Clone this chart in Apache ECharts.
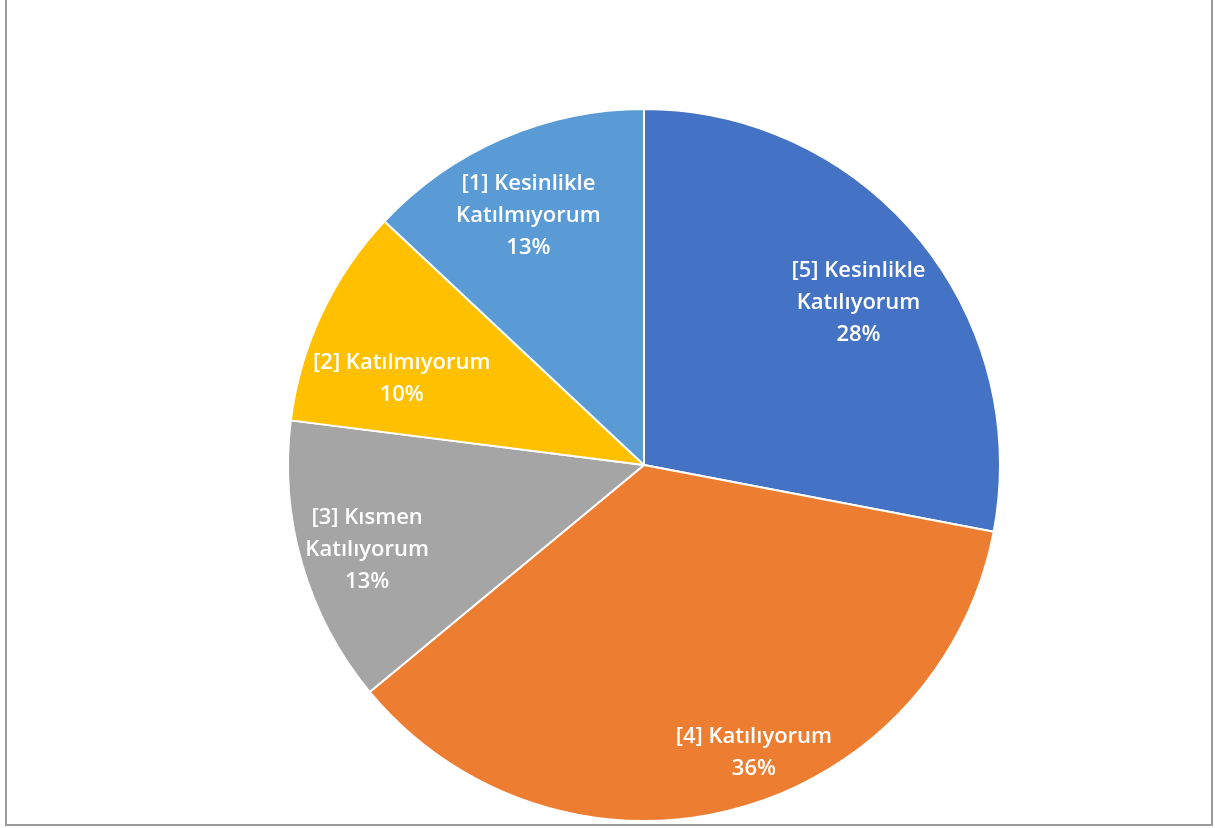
<!DOCTYPE html>
<html>
<head>
<meta charset="utf-8">
<script src="https://cdn.jsdelivr.net/npm/echarts@6/dist/echarts.min.js"></script>
<style>
html,body{margin:0;padding:0;background:#fff;}
#chart{width:1215px;height:828px;}
</style>
</head>
<body>
<div id="chart"></div>
<script>
var categories = ['[5] Kesinlikle\nKatılıyorum', '[4] Katılıyorum', '[3] Kısmen\nKatılıyorum', '[2] Katılmıyorum', '[1] Kesinlikle\nKatılmıyorum'];
var values = [28, 36, 13, 10, 13];
var colors = ['#4472C4', '#ED7D31', '#A5A5A5', '#FFC000', '#5B9BD5'];
var labelNudges = [[-2, 17], [40, 16], [-7, 6], [12, 33], [-4, 9]];

var chart = echarts.init(document.getElementById('chart'));
var center = [644, 465];
var R = 356;

var sliceData = categories.map(function (c, i) {
  return { name: c, value: values[i], itemStyle: { color: colors[i] } };
});
var labelData = categories.map(function (c, i) {
  return { name: c, value: values[i], label: { offset: labelNudges[i] } };
});

chart.setOption({
  animation: false,
  graphic: [{
    type: 'rect',
    shape: { x: 6, y: -4, width: 1206, height: 829 },
    style: { fill: 'none', stroke: '#9a9a9a', lineWidth: 2 },
    silent: true
  }],
  series: [{
    type: 'pie',
    center: center,
    radius: [0, R],
    startAngle: 90,
    clockwise: true,
    silent: true,
    label: { show: false },
    labelLine: { show: false },
    itemStyle: { borderColor: '#ffffff', borderWidth: 2 },
    data: sliceData
  }, {
    type: 'pie',
    center: center,
    radius: [200, R],
    startAngle: 90,
    clockwise: true,
    silent: true,
    itemStyle: { color: 'rgba(0,0,0,0)' },
    label: {
      show: true,
      position: 'inside',
      color: '#ffffff',
      fontFamily: 'Open Sans',
      fontSize: 22,
      fontWeight: 600,
      lineHeight: 32,
      align: 'center',
      formatter: function (p) {
        return p.name + '\n' + Math.round(p.percent) + '%';
      }
    },
    labelLine: { show: false },
    data: labelData
  }]
});
</script>
</body>
</html>
